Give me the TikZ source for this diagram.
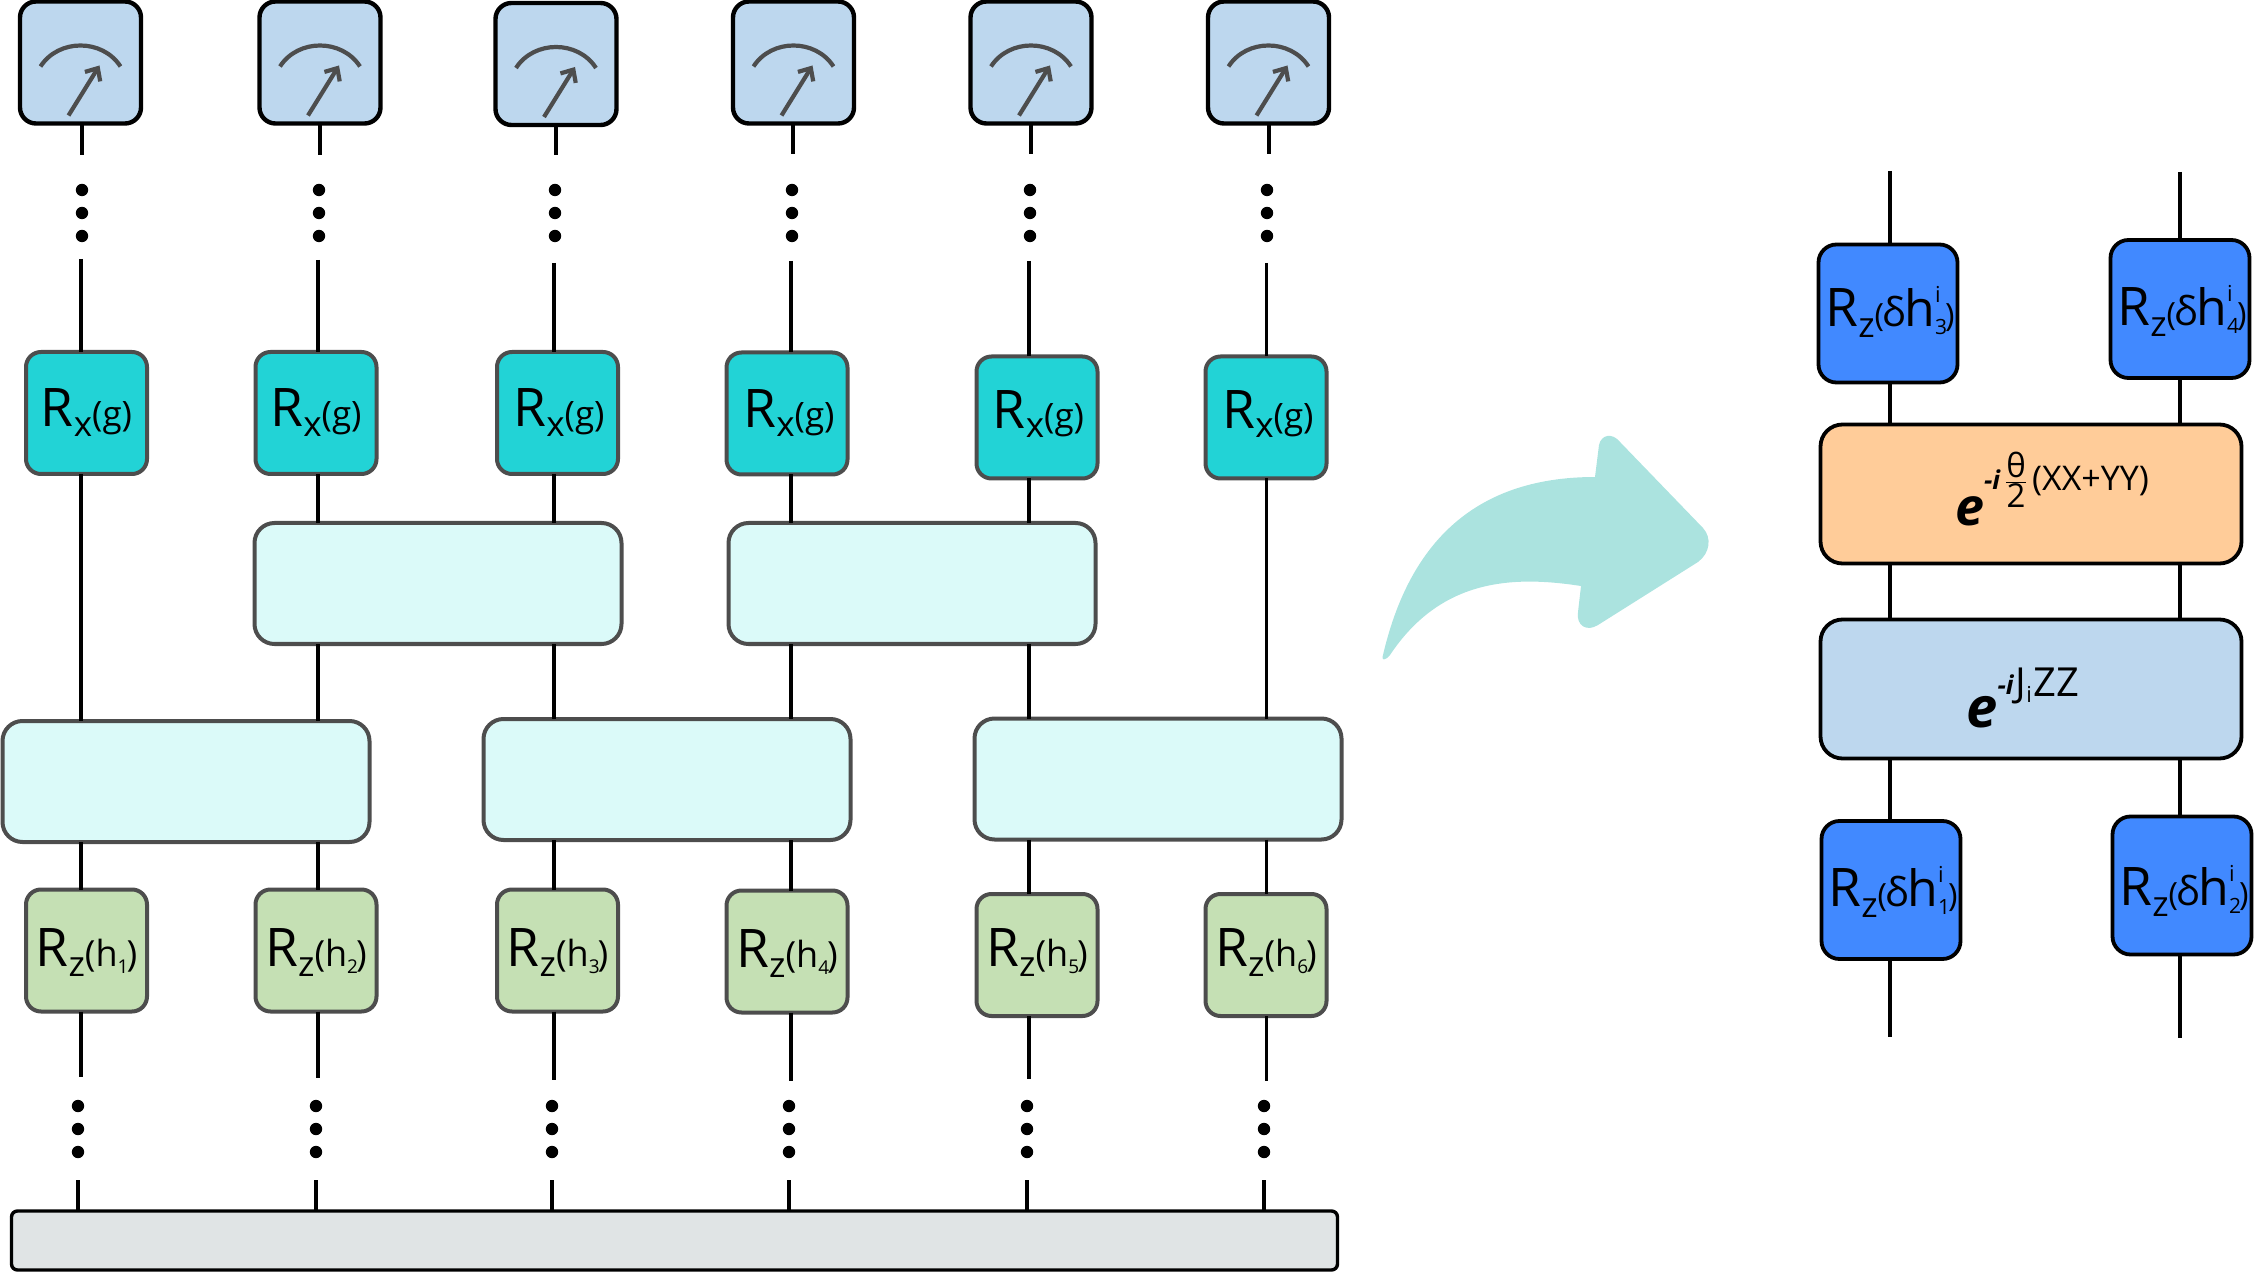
\documentclass[tikz,border=0pt]{standalone}
\usepackage{fontspec}
\usetikzlibrary{arrows.meta,positioning}
\newfontfamily\gatefont{Open Sans}
\newfontfamily\expfont{Open Sans}
\definecolor{Ink}{HTML}{000000}
\definecolor{Edge}{HTML}{4D4D4D}
\definecolor{MeterBlue}{HTML}{BDD7EE}
\definecolor{RxTeal}{HTML}{22D3D6}
\definecolor{RzGreen}{HTML}{C5E0B4}
\definecolor{BlockMint}{HTML}{DBFAF9}
\definecolor{BarGray}{HTML}{E0E4E5}
\definecolor{DeltaBlue}{HTML}{4189FF}
\definecolor{XyPeach}{HTML}{FFCC99}
\definecolor{ArrowMint}{HTML}{ABE3DF}
\newcommand{\fsz}[1]{\fontsize{#1}{#1}\selectfont}
\newcommand{\rxtext}{R\raisebox{-4.6pt}{\fsz{17.5}x}{\fsz{17.5}(g)}}
\newcommand{\rztext}[1]{R\raisebox{-5pt}{\fsz{17.5}z}{\fsz{18}(h\raisebox{-3.5pt}{\fsz{9.5}#1}\hspace{-1pt})}}
\newcommand{\dhtext}[1]{R\raisebox{-5.5pt}{\fsz{17.5}z}{\fsz{16}(}\hspace{-1pt}{\fsz{20}δ}\hspace{-0.5pt}{\fsz{25}h}\rlap{\raisebox{12pt}{\fsz{11}i}}\raisebox{-4pt}{\fsz{10.5}#1}\hspace{-1pt}{\fsz{16})}}
\tikzset{
  gatebox/.style={
    rounded corners=7.5pt, inner sep=0pt, outer sep=0pt, line width=2pt,
    draw=Edge, minimum width=60.5pt, minimum height=61pt,
    font=\gatefont\fsz{26.6}, text=Ink, text height=19pt
  },
  meter/.style={
    gatebox, draw=Ink, fill=MeterBlue, line width=2.2pt, rounded corners=8pt,
    path picture={
      \draw[gauge,shift={(path picture bounding box.center)}] (-40,-15) .. controls (-22,-43) and (22,-43) .. (40,-15);
      \draw[gauge,shift={(path picture bounding box.center)},-{Straight Barb[length=5pt,width=9pt]}] (-12,34) -- (19,-16);
    }
  },
  gauge/.style={draw=Edge, line width=2.1pt},
  rxgate/.style={gatebox, fill=RxTeal, text depth=5pt},
  rzgate/.style={gatebox, fill=RzGreen, text depth=3pt},
  block/.style={gatebox, fill=BlockMint, minimum width=183.5pt, minimum height=60.5pt, rounded corners=10pt},
  readout/.style={gatebox, draw=Ink, fill=BarGray, minimum width=663pt, minimum height=29.5pt, rounded corners=3pt, line width=1.7pt},
  deltagate/.style={
    gatebox, draw=Ink, fill=DeltaBlue, line width=1.9pt, rounded corners=9pt,
    minimum width=69.5pt, minimum height=69pt
  },
  wideblock/.style={
    gatebox, draw=Ink, line width=1.9pt, rounded corners=11pt,
    minimum width=210.5pt, minimum height=69.5pt, font=\expfont
  },
  dotstack/.style={
    inner sep=0pt, minimum width=8pt, minimum height=32pt,
    path picture={
      \fill[Ink,shift={(path picture bounding box.center)}] (0,-23) circle (6.2) (0,0) circle (6.2) (0,23) circle (6.2);
    }
  },
  wire/.style={draw=Ink, line width=1.9pt},
  thinwire/.style={draw=Ink, line width=1.9pt},
  bendarrow/.style={fill=ArrowMint}
}
\begin{document}
\begin{tikzpicture}[x=0.5pt,y=-0.5pt]
  \useasboundingbox (0,0) rectangle (2254,1272);
  % readout meters
  \node[meter] (mt1) at (80.5,62.5) {};
  \node[meter] (mt2) at (320,62.5) {};
  \node[meter] (mt3) at (556,64) {};
  \node[meter] (mt4) at (793.5,62.5) {};
  \node[meter] (mt5) at (1031,62.5) {};
  \node[meter] (mt6) at (1268.5,62.5) {};
  \node[dotstack] (dta1) at (82,213) {};
  \node[dotstack] (dta2) at (319,213) {};
  \node[dotstack] (dta3) at (555,213) {};
  \node[dotstack] (dta4) at (792,213) {};
  \node[dotstack] (dta5) at (1030,213) {};
  \node[dotstack] (dta6) at (1267,213) {};
  % Rx row
  \node[rxgate] (rx1) at (86.5,413) {\rxtext};
  \node[rxgate] (rx2) at (316,413) {\rxtext};
  \node[rxgate] (rx3) at (557.5,413) {\hspace*{1.5pt}\rxtext};
  \node[rxgate] (rx4) at (787,413.5) {\hspace*{2pt}\rxtext};
  \node[rxgate,text depth=8pt] (rx5) at (1037,417.5) {\hspace*{1.5pt}\rxtext};
  \node[rxgate,text depth=8pt] (rx6) at (1266,417.5) {\hspace*{2pt}\rxtext};
  % two qubit blocks
  \node[block] (up23) at (438,583.5) {};
  \node[block] (up45) at (912,583.5) {};
  \node[block] (low12) at (186,781.5) {};
  \node[block] (low34) at (667,779.5) {};
  \node[block] (low56) at (1158,779) {};
  % Rz row
  \node[rzgate] (rz1) at (86.5,950.5) {\rztext{1}};
  \node[rzgate] (rz2) at (316,950.5) {\rztext{2}};
  \node[rzgate] (rz3) at (557.5,950.5) {\rztext{3}};
  \node[rzgate] (rz4) at (787,951.5) {\rztext{4}};
  \node[rzgate,text depth=7.4pt] (rz5) at (1037,955) {\rztext{5}};
  \node[rzgate,text depth=7.4pt] (rz6) at (1266,955) {\rztext{6}};
  \node[dotstack] (dtb1) at (78,1129) {};
  \node[dotstack] (dtb2) at (316,1129) {};
  \node[dotstack] (dtb3) at (552,1129) {};
  \node[dotstack] (dtb4) at (789,1129) {};
  \node[dotstack] (dtb5) at (1027,1129) {};
  \node[dotstack] (dtb6) at (1264,1129) {};
  \node[readout] (bar) at (674.5,1240.5) {};
  % free wire ends
  \coordinate (ta1) at (82,155);
  \coordinate (ta2) at (320,155);
  \coordinate (ta3) at (556,155);
  \coordinate (ta4) at (793,154);
  \coordinate (ta5) at (1031,154);
  \coordinate (ta6) at (1269,154);
  \coordinate (wb1) at (81,259);
  \coordinate (wb2) at (318,260);
  \coordinate (wb3) at (554,263);
  \coordinate (wb4) at (791,261);
  \coordinate (wb5) at (1029,261);
  \coordinate (wb6) at (1266.5,263);
  \coordinate (wc1) at (81,1077);
  \coordinate (wc2) at (318,1078);
  \coordinate (wc3) at (554,1080);
  \coordinate (wc4) at (791,1081);
  \coordinate (wc5) at (1029,1079);
  \coordinate (wc6) at (1266.5,1081);
  \coordinate (wd1) at (78,1180);
  \coordinate (wd2) at (316,1180);
  \coordinate (wd3) at (552,1180);
  \coordinate (wd4) at (789,1180);
  \coordinate (wd5) at (1027,1180);
  \coordinate (wd6) at (1264,1180);
  \draw[wire] (mt1.south -| ta1)--(ta1);
  \draw[wire] (mt2.south -| ta2)--(ta2);
  \draw[wire] (mt3.south -| ta3)--(ta3);
  \draw[wire] (mt4.south -| ta4)--(ta4);
  \draw[wire] (mt5.south -| ta5)--(ta5);
  \draw[wire] (mt6.south -| ta6)--(ta6);
  \draw[wire] (wb1)--(rx1.north -| wb1);
  \draw[wire] (wb2)--(rx2.north -| wb2);
  \draw[wire] (wb3)--(rx3.north -| wb3);
  \draw[wire] (wb4)--(rx4.north -| wb4);
  \draw[wire] (wb5)--(rx5.north -| wb5);
  \draw[wire] (wb6)--(rx6.north -| wb6);
  \draw[wire] (rx1.south -| wb1)--(low12.north -| wb1);
  \draw[wire] (rx2.south -| wb2)--(up23.north -| wb2);
  \draw[wire] (rx3.south -| wb3)--(up23.north -| wb3);
  \draw[wire] (rx4.south -| wb4)--(up45.north -| wb4);
  \draw[wire] (rx5.south -| wb5)--(up45.north -| wb5);
  \draw[wire] (rx6.south -| wb6)--(low56.north -| wb6);
  \draw[wire] (up23.south -| wb2)--(low12.north -| wb2);
  \draw[wire] (up23.south -| wb3)--(low34.north -| wb3);
  \draw[wire] (up45.south -| wb4)--(low34.north -| wb4);
  \draw[wire] (up45.south -| wb5)--(low56.north -| wb5);
  \draw[wire] (low12.south -| wc1)--(rz1.north -| wc1);
  \draw[wire] (low12.south -| wc2)--(rz2.north -| wc2);
  \draw[wire] (low34.south -| wc3)--(rz3.north -| wc3);
  \draw[wire] (low34.south -| wc4)--(rz4.north -| wc4);
  \draw[wire] (low56.south -| wc5)--(rz5.north -| wc5);
  \draw[wire] (low56.south -| wc6)--(rz6.north -| wc6);
  \draw[wire] (rz1.south -| wc1)--(wc1);
  \draw[wire] (rz2.south -| wc2)--(wc2);
  \draw[wire] (rz3.south -| wc3)--(wc3);
  \draw[wire] (rz4.south -| wc4)--(wc4);
  \draw[wire] (rz5.south -| wc5)--(wc5);
  \draw[wire] (rz6.south -| wc6)--(wc6);
  \draw[wire] (wd1)--(bar.north -| wd1);
  \draw[wire] (wd2)--(bar.north -| wd2);
  \draw[wire] (wd3)--(bar.north -| wd3);
  \draw[wire] (wd4)--(bar.north -| wd4);
  \draw[wire] (wd5)--(bar.north -| wd5);
  \draw[wire] (wd6)--(bar.north -| wd6);
  % bent arrow between the panels
  \fill[bendarrow] (1383,655) .. controls (1408,548) and (1470,477) .. (1595,477) -- (1599,445)
    .. controls (1601,435) and (1612,432) .. (1620,442) -- (1703,528)
    .. controls (1712,538) and (1710,553) .. (1698,562) -- (1598,625)
    .. controls (1587,632) and (1576,626) .. (1578,612) -- (1581,586)
    .. controls (1510,575) and (1440,580) .. (1390,655)
    .. controls (1385,661) and (1381,661) .. (1383,655) -- cycle;
  % zoomed two qubit gate
  \node[deltagate,text depth=6pt] (dh3) at (1888,313.5) {\hspace*{2pt}\dhtext{3}};
  \node[deltagate,text depth=2pt] (dh4) at (2180,309) {\hspace*{2pt}\dhtext{4}};
  \node[wideblock,fill=XyPeach,text height=33pt,text depth=1pt] (xyblock) at (2031,494) {\hspace*{21pt}{\fsz{26}\bfseries\itshape e}\raisebox{18pt}{\fsz{13}\bfseries\itshape -i}\hspace{3pt}\rlap{\raisebox{24pt}{\makebox[10pt]{\fsz{16.5}θ}}}\rlap{\raisebox{21.5pt}{\rule{10pt}{0.5pt}}}\raisebox{9pt}{\makebox[10pt]{\fsz{16.5}2}}\hspace{3pt}\raisebox{17.5pt}{\fsz{17}(XX+YY)}};
  \node[wideblock,fill=MeterBlue,below=28pt of xyblock,text height=39pt,text depth=0.5pt] (zzblock) {\hspace*{-8pt}{\fsz{28}\bfseries\itshape e}\raisebox{16.5pt}{\fsz{13}\bfseries\itshape -i}\hspace{1pt}\raisebox{15.5pt}{\fsz{20}J}\raisebox{12.5pt}{\fsz{11}i}\hspace{1pt}\raisebox{15.5pt}{\fsz{20}ZZ}};
  \node[deltagate,text depth=3pt] (dh1) at (1891,890) {\hspace*{2pt}\dhtext{1}};
  \node[deltagate,text height=20pt,text depth=0.5pt] (dh2) at (2182,885.5) {\hspace*{2pt}\dhtext{2}};
  \coordinate (rwa) at (1890,171);
  \coordinate (rwb) at (2180,172);
  \coordinate (rwc) at (1890,1037);
  \coordinate (rwd) at (2180,1038);
  \draw[thinwire] (rwa)--(dh3.north -| rwa);
  \draw[thinwire] (rwb)--(dh4.north -| rwb);
  \draw[thinwire] (dh3.south -| rwa)--(xyblock.north -| rwa);
  \draw[thinwire] (dh4.south -| rwb)--(xyblock.north -| rwb);
  \draw[thinwire] (xyblock.south -| rwa)--(zzblock.north -| rwa);
  \draw[thinwire] (xyblock.south -| rwb)--(zzblock.north -| rwb);
  \draw[thinwire] (zzblock.south -| rwc)--(dh1.north -| rwc);
  \draw[thinwire] (zzblock.south -| rwd)--(dh2.north -| rwd);
  \draw[thinwire] (dh1.south -| rwc)--(rwc);
  \draw[thinwire] (dh2.south -| rwd)--(rwd);
\end{tikzpicture}
\end{document}
